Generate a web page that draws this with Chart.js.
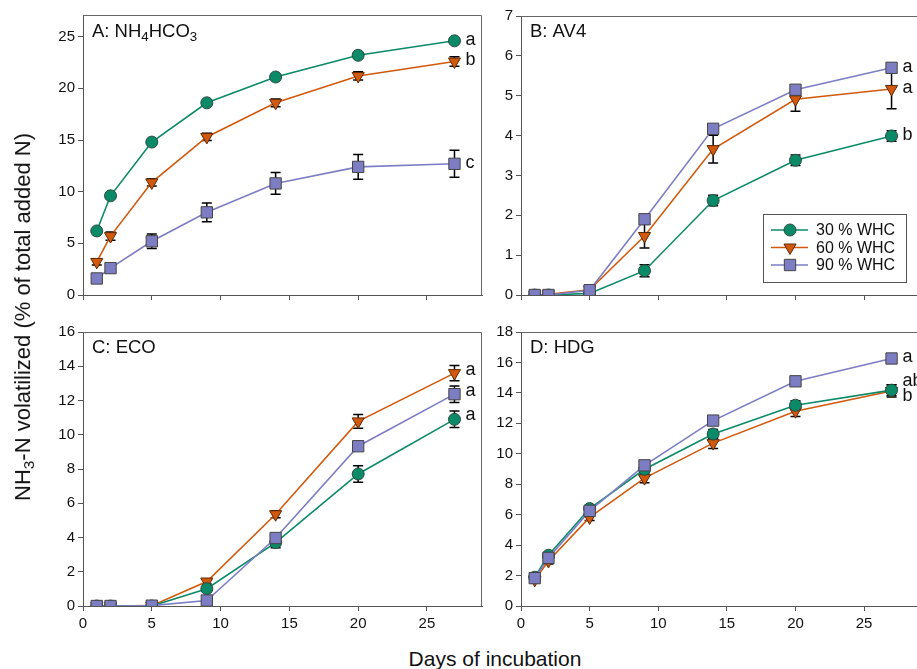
<!DOCTYPE html>
<html>
<head>
<meta charset="utf-8">
<script src="https://cdn.jsdelivr.net/npm/chart.js@4/dist/chart.umd.min.js"></script>
<style>
  html, body { margin: 0; padding: 0; background: #fff; overflow: hidden; }
  body { width: 917px; height: 669px; position: relative; font-family: "Liberation Sans", Arial, sans-serif; }
  canvas { position: absolute; }
  #ytitle {
    position: absolute; left: 24px; top: 317px; white-space: nowrap;
    transform: translate(-50%, -50%) rotate(-90deg); font-size: 22px; color: #111;
  }
  #xtitle {
    position: absolute; left: 495px; top: 659px; white-space: nowrap;
    transform: translate(-50%, -50%); font-size: 21px; color: #111;
  }
  sub { font-size: 70%; vertical-align: -0.25em; }
</style>
</head>
<body>
<canvas id="cA" width="484" height="320" style="left:0;top:0"></canvas>
<canvas id="cB" width="436" height="320" style="left:484px;top:0"></canvas>
<canvas id="cC" width="484" height="320" style="left:0;top:320px"></canvas>
<canvas id="cD" width="436" height="320" style="left:484px;top:320px"></canvas>
<div id="ytitle">NH<sub>3</sub>-N volatilized (% of total added N)</div>
<div id="xtitle">Days of incubation</div>
<script>
const days = [1, 2, 5, 9, 14, 20, 27];
const seriesNames = ["30 % WHC", "60 % WHC", "90 % WHC"];

// A: NH4HCO3
const a30 = [6.2, 9.6, 14.8, 18.6, 21.1, 23.2, 24.6];
const a60 = [3.2, 5.7, 10.9, 15.3, 18.6, 21.2, 22.6];
const a90 = [1.6, 2.6, 5.2, 8.0, 10.8, 12.4, 12.7];
const a30err = [0.1, 0.2, 0.2, 0.2, 0.2, 0.2, 0.2];
const a60err = [0.3, 0.4, 0.35, 0.35, 0.37, 0.4, 0.45];
const a90err = [0.1, 0.2, 0.7, 0.9, 1.05, 1.2, 1.3];
const aLetters = [["a", 24.6], ["b", 22.6], ["c", 12.7]];

// B: AV4
const b30 = [0, 0, 0.04, 0.61, 2.37, 3.38, 3.99];
const b60 = [0, 0.02, 0.13, 1.48, 3.66, 4.91, 5.17];
const b90 = [0, 0, 0.12, 1.9, 4.17, 5.15, 5.7];
const b30err = [0, 0, 0.02, 0.15, 0.13, 0.13, 0.13];
const b60err = [0, 0, 0.03, 0.3, 0.35, 0.3, 0.5];
const b90err = [0, 0, 0.03, 0.05, 0.05, 0.05, 0.05];
const bLetters = [["a", 5.7], ["a", 5.17], ["b", 3.99]];

// C: ECO
const c30 = [0, 0, 0, 1.01, 3.7, 7.71, 10.9];
const c60 = [0, 0, 0.02, 1.43, 5.36, 10.78, 13.6];
const c90 = [0, 0, 0.02, 0.32, 3.97, 9.33, 12.37];
const c30err = [0, 0, 0, 0.1, 0.3, 0.48, 0.48];
const c60err = [0, 0, 0, 0.15, 0.2, 0.4, 0.45];
const c90err = [0, 0, 0, 0.05, 0.1, 0.1, 0.48];
const cLetters = [["a", 13.7], ["a", 12.5], ["a", 11.1]];

// D: HDG
const d30 = [1.89, 3.33, 6.4, 8.98, 11.3, 13.19, 14.18];
const d60 = [1.72, 2.96, 5.82, 8.4, 10.7, 12.8, 14.13];
const d90 = [1.83, 3.16, 6.25, 9.24, 12.18, 14.76, 16.26];
const d30err = [0.1, 0.1, 0.1, 0.2, 0.3, 0.3, 0.35];
const d60err = [0.2, 0.2, 0.2, 0.3, 0.35, 0.35, 0.4];
const d90err = [0.05, 0.05, 0.05, 0.05, 0.05, 0.05, 0.05];
const dLetters = [["a", 16.26], ["ab", 14.7], ["b", 13.7]];

const green = "#0b8a68", orange = "#d2590c", purple = "#7d7dc4";
const font = "Liberation Sans, Arial, sans-serif";

function makeSets(v30, v60, v90, e30, e60, e90) {
  const pts = (v) => days.map((d, i) => ({ x: d, y: v[i] }));
  return [
    { label: seriesNames[0], data: pts(v30), err: e30, borderColor: green, backgroundColor: green,
      pointStyle: "circle", pointRadius: 6, pointBorderColor: "#2b4b3f", pointBorderWidth: 1, order: 1 },
    { label: seriesNames[1], data: pts(v60), err: e60, borderColor: orange, backgroundColor: orange,
      pointStyle: "triangle", pointRotation: 180, pointRadius: 7, pointBorderColor: "#5a2a08", pointBorderWidth: 1, order: 2 },
    { label: seriesNames[2], data: pts(v90), err: e90, borderColor: purple, backgroundColor: purple,
      pointStyle: "rect", pointRadius: 8, pointBorderColor: "#444", pointBorderWidth: 1, order: 0 }
  ];
}

// draws text pieces, some lowered as subscripts
function drawRich(ctx, x, y, parts, size) {
  ctx.textBaseline = "alphabetic";
  ctx.textAlign = "left";
  parts.forEach(p => {
    const s = p.sub ? size * 0.72 : size;
    ctx.font = s + "px " + font;
    ctx.fillText(p.t, x, p.sub ? y + size * 0.2 : y);
    x += ctx.measureText(p.t).width;
  });
}

const decor = {
  id: "decor",
  beforeDatasetsDraw(chart) {
    const ctx = chart.ctx, xs = chart.scales.x, ys = chart.scales.y;
    ctx.save();
    ctx.strokeStyle = "#000";
    ctx.lineWidth = 1.5;
    chart.data.datasets.forEach(ds => {
      ds.data.forEach((p, i) => {
        const e = ds.err[i];
        if (!e) return;
        const px = xs.getPixelForValue(p.x);
        const top = ys.getPixelForValue(p.y + e), bot = ys.getPixelForValue(p.y - e);
        ctx.beginPath();
        ctx.moveTo(px, top); ctx.lineTo(px, bot);
        ctx.moveTo(px - 5, top); ctx.lineTo(px + 5, top);
        ctx.moveTo(px - 5, bot); ctx.lineTo(px + 5, bot);
        ctx.stroke();
      });
    });
    ctx.restore();
  },
  afterDraw(chart) {
    const o = chart.options.plugins.decor;
    const ctx = chart.ctx, a = chart.chartArea, xs = chart.scales.x, ys = chart.scales.y;
    ctx.save();
    ctx.strokeStyle = "#666";
    ctx.lineWidth = 1;
    ctx.beginPath();
    ctx.moveTo(a.left, a.top + 0.5); ctx.lineTo(a.right - 0.5, a.top + 0.5); ctx.lineTo(a.right - 0.5, a.bottom);
    ctx.stroke();
    ctx.fillStyle = "#111";
    drawRich(ctx, a.left + 9, a.top + o.titleDy, o.title, 18.5);
    ctx.font = "18px " + font;
    ctx.textBaseline = "middle";
    const lx = xs.getPixelForValue(days[days.length - 1]) + 11;
    o.letters.forEach(l => ctx.fillText(l[0], lx, ys.getPixelForValue(l[1]) - 1));
    if (o.legend) {
      const bx = a.right - 156, by = a.top + 198, bw = 143, bh = 68;
      ctx.strokeStyle = "#555";
      ctx.strokeRect(bx + 0.5, by + 0.5, bw, bh);
      ctx.font = "16px " + font;
      chart.data.datasets.forEach((ds, i) => {
        const y = by + 16 + i * 17.5;
        ctx.strokeStyle = ds.borderColor;
        ctx.lineWidth = 1.5;
        ctx.beginPath(); ctx.moveTo(bx + 8, y); ctx.lineTo(bx + 45, y); ctx.stroke();
        ctx.fillStyle = ds.backgroundColor;
        ctx.strokeStyle = ds.pointBorderColor;
        ctx.lineWidth = 1;
        Chart.helpers.drawPoint(ctx, { pointStyle: ds.pointStyle, rotation: ds.pointRotation || 0,
          radius: ds.pointRadius, borderWidth: 1 }, bx + 27, y);
        ctx.fillStyle = "#111";
        ctx.textBaseline = "middle";
        ctx.fillText(ds.label, bx + 53, y + 1);
      });
    }
    ctx.restore();
  }
};

function panel(id, sets, yMax, yStep, title, letters, opts) {
  const keep = (step) => (s) => { s.ticks = s.ticks.filter(t => Math.abs(t.value / step - Math.round(t.value / step)) < 1e-6); };
  new Chart(document.getElementById(id), {
    type: "line",
    data: { datasets: sets },
    options: {
      responsive: false,
      animation: false,
      devicePixelRatio: 1,
      layout: { autoPadding: false, padding: { top: opts.top, right: opts.right, left: 0, bottom: 0 } },
      elements: { line: { borderWidth: 1.6, tension: 0 } },
      plugins: { legend: { display: false }, tooltip: { enabled: false },
        decor: { title: title, titleDy: opts.titleDy, letters: letters, legend: opts.legend } },
      scales: {
        x: {
          type: "linear", min: 0, max: 29,
          afterBuildTicks: keep(5),
          afterFit: (s) => { s.height = opts.xh; },
          grid: { drawOnChartArea: false, drawTicks: true, tickLength: 5, color: "#555" },
          border: { color: "#555", width: 1 },
          ticks: { stepSize: 5, display: opts.xLabels, color: "#111", padding: 4, font: { size: 15, family: font } }
        },
        y: {
          min: 0, max: yMax,
          afterBuildTicks: keep(yStep),
          afterFit: (s) => { s.width = opts.yw; },
          grid: { drawOnChartArea: false, drawTicks: true, tickLength: 5, color: "#555" },
          border: { color: "#555", width: 1 },
          ticks: { stepSize: yStep, color: "#111", padding: 3, font: { size: 15, family: font } }
        }
      }
    },
    plugins: [decor]
  });
}

panel("cA", makeSets(a30, a60, a90, a30err, a60err, a90err), 27.1, 5,
  [{ t: "A: NH" }, { t: "4", sub: true }, { t: "HCO" }, { t: "3", sub: true }], aLetters,
  { top: 15, right: 2, yw: 83, xh: 25, xLabels: false, titleDy: 22 });
panel("cB", makeSets(b30, b60, b90, b30err, b60err, b90err), 7, 1,
  [{ t: "B: AV4" }], bLetters,
  { top: 16, right: 1, yw: 37, xh: 25, xLabels: false, legend: true, titleDy: 21 });
panel("cC", makeSets(c30, c60, c90, c30err, c60err, c90err), 16, 2,
  [{ t: "C: ECO" }], cLetters,
  { top: 7, right: 2, yw: 83, xh: 34, xLabels: true, titleDy: 21 });
panel("cD", makeSets(d30, d60, d90, d30err, d60err, d90err), 18, 2,
  [{ t: "D: HDG" }], dLetters,
  { top: 7, right: 1, yw: 37, xh: 34, xLabels: true, titleDy: 21 });
</script>
</body>
</html>
